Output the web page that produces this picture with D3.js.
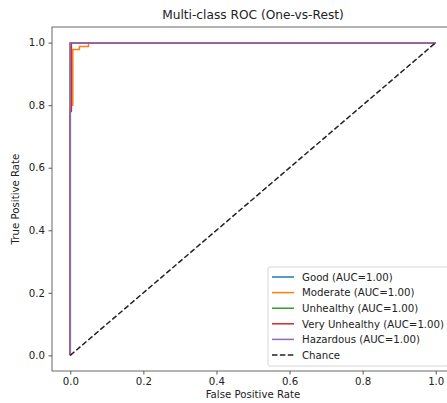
<!DOCTYPE html>
<html lang="en">
<head>
<meta charset="UTF-8">
<title>Multi-class ROC</title>
<script src="https://d3js.org/d3.v7.min.js"></script>
<style>
  body { margin: 0; background: #fff; }
  svg { display: block; font-family: "DejaVu Sans", sans-serif; }
</style>
</head>
<body>
<svg width="447" height="403"></svg>
<script>
// class names, colors and AUC labels
var classes = ['Good', 'Moderate', 'Unhealthy', 'Very Unhealthy', 'Hazardous'];
var colors = ['#1f77b4', '#ff7f0e', '#2ca02c', '#d62728', '#9467bd'];
var aucs = ['1.00', '1.00', '1.00', '1.00', '1.00'];

// ROC points (fpr / tpr per class)
var fprGood = [0, 0, 1];
var tprGood = [0, 1, 1];
var fprModerate = [0, 0, 0.007, 0.007, 0.025, 0.025, 0.05, 0.05, 1];
var tprModerate = [0, 0.8, 0.8, 0.978, 0.978, 0.988, 0.988, 1, 1];
var fprUnhealthy = [0, 0, 1];
var tprUnhealthy = [0, 1, 1];
var fprVeryUnhealthy = [0, 0, 0.003, 0.003, 1];
var tprVeryUnhealthy = [0, 0.78, 0.78, 1, 1];
var fprHazardous = [0, 0, 1];
var tprHazardous = [0, 1, 1];

var xTicks = [0, 0.2, 0.4, 0.6, 0.8, 1.0];
var yTicks = [0, 0.2, 0.4, 0.6, 0.8, 1.0];

var curves = [
  [fprGood, tprGood],
  [fprModerate, tprModerate],
  [fprUnhealthy, tprUnhealthy],
  [fprVeryUnhealthy, tprVeryUnhealthy],
  [fprHazardous, tprHazardous]
];

var svg = d3.select('svg');
var margin = { left: 52, top: 27, right: -7, bottom: 32 };
var width = 447, height = 403;
var x0 = margin.left, x1 = width - margin.right;
var y0 = margin.top, y1 = height - margin.bottom;

var xScale = d3.scaleLinear().domain([-0.05, 1.05]).range([x0, x1]);
var yScale = d3.scaleLinear().domain([-0.05, 1.05]).range([y1, y0]);

var line = d3.line()
  .x(d => xScale(d[0]))
  .y(d => yScale(d[1]));

var plot = svg.append('g');

curves.forEach(function (c, i) {
  var pts = c[0].map((f, j) => [f, c[1][j]]);
  plot.append('path')
    .attr('d', line(pts))
    .attr('fill', 'none')
    .attr('stroke', colors[i])
    .attr('stroke-width', 1.5)
    .attr('stroke-linejoin', 'round');
});

plot.append('path')
  .attr('d', line([[0, 0], [1, 1]]))
  .attr('fill', 'none')
  .attr('stroke', '#222')
  .attr('stroke-width', 1.5)
  .attr('stroke-dasharray', '5.5,2.4');

// axes
var xAxis = d3.axisBottom(xScale).tickValues(xTicks).tickFormat(d3.format('.1f')).tickSize(3.5).tickPadding(3.5);
var yAxis = d3.axisLeft(yScale).tickValues(yTicks).tickFormat(d3.format('.1f')).tickSize(3.5).tickPadding(3.5);

var xAxisG = svg.append('g').attr('transform', `translate(0,${y1})`).call(xAxis);
var yAxisG = svg.append('g').attr('transform', `translate(${x0},0)`).call(yAxis);
[xAxisG, yAxisG].forEach(g => {
  g.select('.domain').remove();
  g.selectAll('line').attr('stroke', '#333').attr('stroke-width', 0.8);
  g.selectAll('text').attr('fill', '#222').style('font-size', '10.2px').style('font-family', '"DejaVu Sans", sans-serif');
});

// spines
svg.append('rect')
  .attr('x', x0).attr('y', y0)
  .attr('width', x1 - x0).attr('height', y1 - y0)
  .attr('fill', 'none').attr('stroke', '#444').attr('stroke-width', 0.8);

// title and labels
svg.append('text')
  .attr('x', (x0 + x1) / 2).attr('y', 19)
  .attr('text-anchor', 'middle')
  .style('font-size', '12.2px').attr('fill', '#222')
  .text('Multi-class ROC (One-vs-Rest)');

svg.append('text')
  .attr('x', (x0 + x1) / 2).attr('y', 398)
  .attr('text-anchor', 'middle')
  .style('font-size', '10.2px').attr('fill', '#222')
  .text('False Positive Rate');

svg.append('text')
  .attr('transform', `translate(19,${(y0 + y1) / 2}) rotate(-90)`)
  .attr('text-anchor', 'middle')
  .style('font-size', '10.2px').attr('fill', '#222')
  .text('True Positive Rate');

// legend
var legendItems = classes.map((c, i) => ({ label: `${c} (AUC=${aucs[i]})`, color: colors[i], dash: null }));
legendItems.push({ label: 'Chance', color: '#222', dash: '5.5,2.4' });

var legend = svg.append('g').attr('transform', 'translate(268,267)');
legend.append('rect')
  .attr('width', 180).attr('height', 99).attr('rx', 2)
  .attr('fill', 'rgba(255,255,255,0.8)').attr('stroke', '#ccc').attr('stroke-width', 0.8);

legendItems.forEach(function (d, i) {
  var yy = 10 + i * 15.6;
  legend.append('line')
    .attr('x1', 4).attr('x2', 26).attr('y1', yy).attr('y2', yy)
    .attr('stroke', d.color).attr('stroke-width', 1.5)
    .attr('stroke-dasharray', d.dash);
  legend.append('text')
    .attr('x', 34).attr('y', yy + 3.7)
    .style('font-size', '10.2px').attr('fill', '#222')
    .text(d.label);
});
</script>
</body>
</html>
